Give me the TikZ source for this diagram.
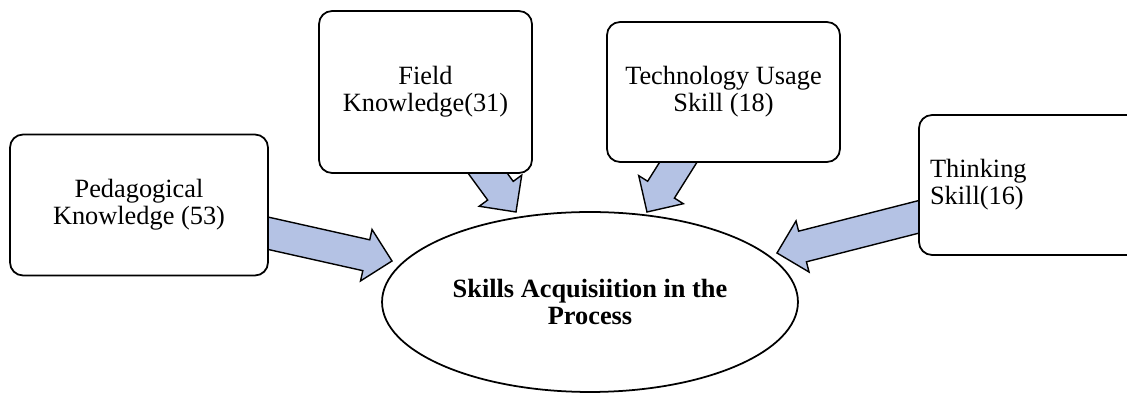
\documentclass[tikz,border=0pt]{standalone}
\usepackage{fontspec}
\setmainfont{Liberation Serif}
\usetikzlibrary{calc,shapes.geometric}
\definecolor{arrowblue}{RGB}{180,194,228}
\newcommand{\fatarrow}[2]{%
  \coordinate (#1-hb) at ($(#2)!15pt!(#1)$);
  \filldraw[fatarrow] ($(#1)!9pt!90:(#2)$) -- ($(#1-hb)!9pt!-90:(#1)$) -- ($(#1-hb)!15pt!-90:(#1)$) -- (#2)
    -- ($(#1-hb)!15pt!90:(#1)$) -- ($(#1-hb)!9pt!90:(#1)$) -- ($(#1)!9pt!-90:(#2)$) -- cycle;}

\begin{document}
\begin{tikzpicture}[x=0.02cm,y=-0.02cm,box/.style={rectangle,rounded corners=0.26cm,draw,fill=white,line width=1pt,align=center,font=\fontsize{15}{15.5}\selectfont},fatarrow/.style={fill=arrowblue,draw=black,line width=0.8pt,line join=miter}]
		\useasboundingbox (0,0) rectangle (1127,394);
		\coordinate (s1) at (258,231);
		\coordinate (t1) at (392,261);
		\coordinate (s2) at (478,160);
		\coordinate (t2) at (516,212);
		\coordinate (s3) at (686,150);
		\coordinate (t3) at (647,212);
		\coordinate (s4) at (930,214);
		\coordinate (t4) at (777,253);
		\fatarrow{s1}{t1}
		\fatarrow{s2}{t2}
		\fatarrow{s3}{t3}
		\fatarrow{s4}{t4}
		\node[box,minimum width=5.16cm,minimum height=2.82cm] (ped) at (139,205) {Pedagogical\\Knowledge (53)};
		\node[box,minimum width=4.26cm,minimum height=3.24cm] (field) at (425.5,92) {Field\\Knowledge(31)};
		\node[box,minimum width=4.66cm,minimum height=2.8cm] (tech) at (723.5,92) {Technology Usage\\Skill (18)};
		\node[box,align=left,inner sep=0.22cm,text width=3.98cm,minimum width=4.42cm,minimum height=2.8cm] (think) at (1029.5,185) {Thinking\\Skill(16)};
		\node[ellipse,draw,line width=1pt,minimum width=8.32cm,minimum height=3.6cm,align=center,font=\fontsize{15}{15.5}\selectfont\bfseries] (skills) at (590,302) {Skills Acquisiition in the\\Process};
	\end{tikzpicture}
\end{document}
